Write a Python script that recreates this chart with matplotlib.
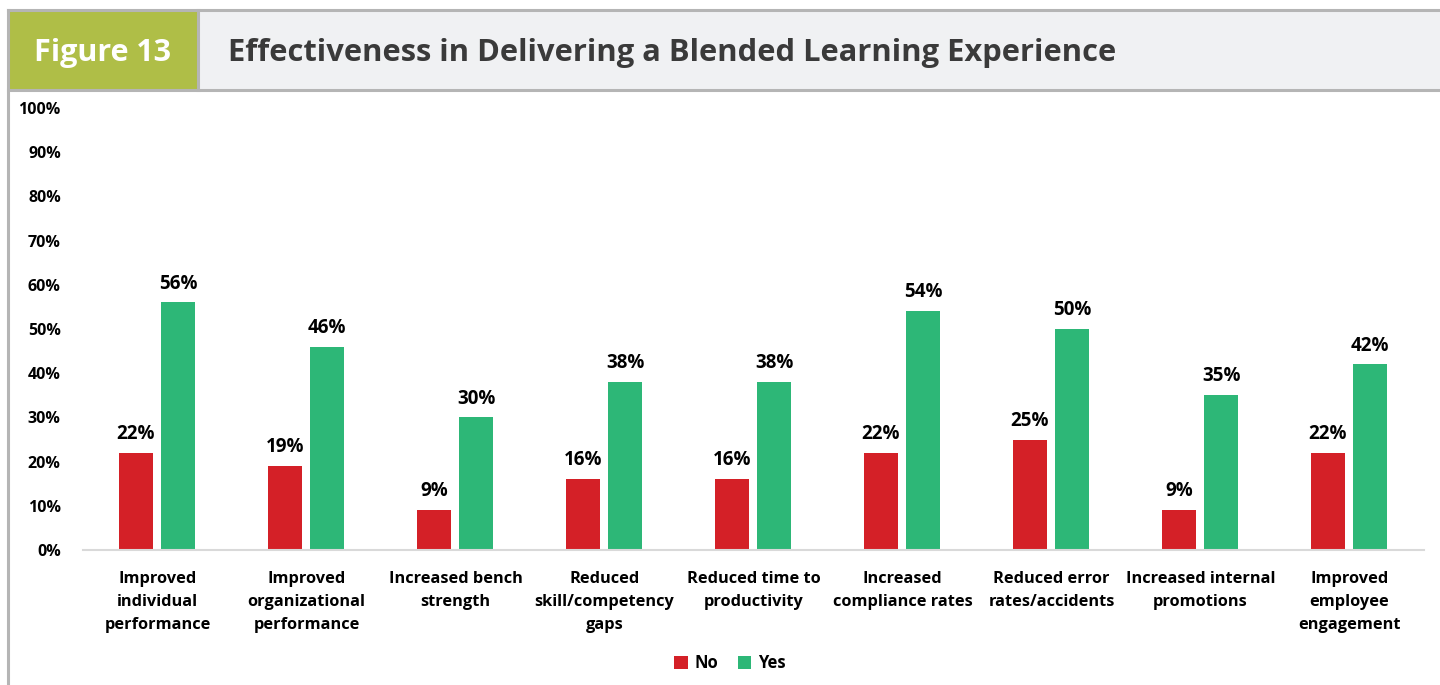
import numpy as np
import matplotlib.pyplot as plt
from matplotlib.patches import Rectangle
from matplotlib.lines import Line2D

plt.rcParams['font.family'] = ['Open Sans', 'DejaVu Sans']

categories = [
    'Improved\nindividual\nperformance',
    'Improved\norganizational\nperformance',
    'Increased bench\nstrength',
    'Reduced\nskill/competency\ngaps',
    'Reduced time to\nproductivity',
    'Increased\ncompliance rates',
    'Reduced error\nrates/accidents',
    'Increased internal\npromotions',
    'Improved\nemployee\nengagement',
]
no_vals = [22, 19, 9, 16, 16, 22, 25, 9, 22]
yes_vals = [56, 46, 30, 38, 38, 54, 50, 35, 42]
yticks = list(range(0, 101, 10))

red = '#D42027'
green = '#2DB777'

W, H = 1440, 685
fig = plt.figure(figsize=(W / 100, H / 100), dpi=100)


def fx(px):
    return px / W


def fy(py):
    return 1 - py / H


# header band
fig.patches.append(Rectangle((fx(8), fy(90)), fx(190), fy(10) - fy(90),
                             transform=fig.transFigure, facecolor='#AFBE47',
                             edgecolor='none'))
fig.patches.append(Rectangle((fx(198), fy(90)), fx(1242), fy(10) - fy(90),
                             transform=fig.transFigure, facecolor='#F0F1F3',
                             edgecolor='none'))
line_kw = dict(transform=fig.transFigure, color='#B5B5B5', lw=2.2)
fig.lines.append(Line2D([fx(8), 1], [fy(10), fy(10)], **line_kw))
fig.lines.append(Line2D([fx(8), 1], [fy(90), fy(90)], **line_kw))
fig.lines.append(Line2D([fx(198), fx(198)], [fy(10), fy(90)], **line_kw))
fig.lines.append(Line2D([fx(8), fx(8)], [fy(10), 0], **line_kw))

fig.text(fx(103), fy(53), 'Figure 13', color='white', fontsize=22,
         fontweight='bold', ha='center', va='center')
fig.text(fx(228), fy(53), 'Effectiveness in Delivering a Blended Learning Experience',
         color='#3A3A3A', fontsize=22.2, fontweight='bold', ha='left', va='center')

# chart
ax = fig.add_axes([fx(83), fy(550), fx(1341), fy(108) - fy(550)])
x = np.arange(len(categories))
w = 0.23
b1 = ax.bar(x - 0.145, no_vals, w, color=red, label='No')
b2 = ax.bar(x + 0.14, yes_vals, w, color=green, label='Yes')
for bars, vals in ((b1, no_vals), (b2, yes_vals)):
    for bar, v in zip(bars, vals):
        ax.text(bar.get_x() + bar.get_width() / 2, v + 2.0, f'{v}%',
                ha='center', va='bottom', fontsize=13.5, fontweight='bold')

ax.set_xlim(-0.5, len(categories) - 0.5)
ax.set_ylim(0, 100)
ax.set_yticks(yticks)
ax.set_yticklabels([f'{t}%' for t in yticks], fontsize=11.5, fontweight='bold')
ax.set_xticks(x)
ax.set_xticklabels(categories, fontsize=11.8, fontweight='bold', linespacing=1.6)
ax.tick_params(axis='both', length=0)
ax.tick_params(axis='y', pad=16)
ax.tick_params(axis='x', pad=15)
for s in ('top', 'right', 'left'):
    ax.spines[s].set_visible(False)
ax.spines['bottom'].set_color('#D9D9D9')
ax.spines['bottom'].set_linewidth(1.5)

fig.legend(handles=[b1, b2], labels=['No', 'Yes'], loc='center',
           bbox_to_anchor=(fx(730), fy(663)), ncol=2, frameon=False,
           prop={'weight': 'bold', 'size': 12}, handlelength=0.8,
           handleheight=0.8, handletextpad=0.4, columnspacing=1.2)

fig.savefig('out.png', dpi=100)
